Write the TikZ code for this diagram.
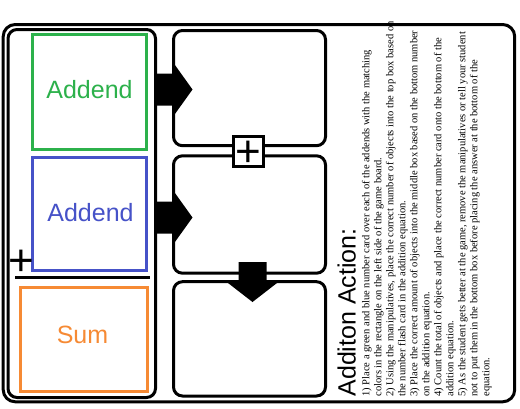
\documentclass[tikz,border=0pt]{standalone}
\usepackage{fontspec}
\setmainfont{Liberation Serif}
\newfontfamily\sansarial{Liberation Sans}
\definecolor{addgreen}{RGB}{44,177,75}
\definecolor{addblue}{RGB}{70,82,200}
\definecolor{sumorange}{RGB}{246,138,52}
\begin{document}
\begin{tikzpicture}[x=1pt,y=-1pt,
  every node/.style={inner sep=0pt,outer sep=0pt},
  thickline/.style={line width=3pt},
  cardbox/.style={draw,thickline,rounded corners=9pt},
  colorbox/.style={draw,thickline},
  bigword/.style={font=\sansarial\fontsize{25}{30}\selectfont},
  plussign/.style={font=\sansarial\fontsize{44}{50}\selectfont,anchor=base},
  blockarrow/.style={fill=black}
]
\useasboundingbox (0,0) rectangle (520,408);
\fill[white] (0,0) rectangle (520,408);

% left panel and coloured cards
\node[cardbox, minimum width=147.5pt, minimum height=368pt] (panel) at (81.75,213.5) {};
\node[colorbox, draw=addgreen, minimum width=113.3pt, minimum height=115.2pt] (green) at (89.35,91.6) {};
\node[colorbox, draw=addblue, minimum width=113.3pt, minimum height=113.6pt] (blue) at (89.35,214) {};
\node[colorbox, draw=sumorange, minimum width=127.2pt, minimum height=103.7pt] (sum) at (83.6,339.15) {};
\node[bigword, text=addgreen, anchor=base] (greentext) at (89.5,98.5) {Addend};
\node[bigword, text=addblue, anchor=base] (bluetext) at (90.5,221.5) {Addend};
\node[bigword, text=sumorange, anchor=base] (sumtext) at (82.5,343) {Sum};
\node[plussign] (leftplus) at (21.3,275.2) {+};
\draw[thickline] (15,277.3) -- (150,277.3);

% middle boxes
\node[cardbox, minimum width=152pt, minimum height=115.2pt] (box1) at (249.5,88.1) {};
\node[cardbox, minimum width=152pt, minimum height=117.4pt] (box2) at (249.5,214.5) {};
\node[cardbox, minimum width=152pt, minimum height=114.3pt] (box3) at (249.5,338.85) {};

% block arrows
\coordinate (arr1) at (box1.west |- 0,89.5);
\coordinate (arr2) at (box2.west |- 0,217.5);
\coordinate (arr3) at (252.5,283);
\fill[blockarrow] (arr1) ++(-18.5,-16) -- ++(18.5,0) -- ++(0,-10.5) -- ++(19,26.5) -- ++(-19,26.5) -- ++(0,-10.5) -- ++(-18.5,0) -- cycle;
\fill[blockarrow] (arr2) ++(-18.5,-16) -- ++(18.5,0) -- ++(0,-10.5) -- ++(19,26.5) -- ++(-19,26.5) -- ++(0,-10.5) -- ++(-18.5,0) -- cycle;
\fill[blockarrow] (arr3) ++(-14,0) -- ++(0,-21) -- ++(28,0) -- ++(0,21) -- ++(10.5,0) -- ++(-24.5,19) -- ++(-24.5,-19) -- cycle;

% plus box
\node[draw, thickline, fill=white, minimum size=30pt] (plusbox) at (248,151) {};
\node[plussign] (plustext) at (248,166.5) {+};

% instructions
\node[bigword, rotate=90, anchor=base west] (title) at (355.5,396.5) {Additon Action:};
\node[rotate=90, anchor=north west, align=left, font=\fontsize{10.5}{12}\selectfont] (steps) at (362,396.5) {%
1) Place a green and blue number card over each of the addends with the matching\\
colors in the rectangle on the left side of the game board.\\
2) Using the manipulatives, place the correct number of objects into the top box based on\\
the number flash card in the addition equation.\\
3) Place the correct amount of objects into the middle box based on the bottom number\\
on the addition equation.\\
4) Count the total of objects and place the correct number card onto the bottom of the\\
addition equation.\\
5) As the student gets better at the game, remove the manipulatives or tell your student\\
not to put them in the bottom box before placing the answer at the bottom of the\\
equation.};

% outer frame
\node[draw, thickline, rounded corners=12pt, minimum width=511.5pt, minimum height=377.3pt] (frame) at (258.95,213.15) {};
\end{tikzpicture}
\end{document}
